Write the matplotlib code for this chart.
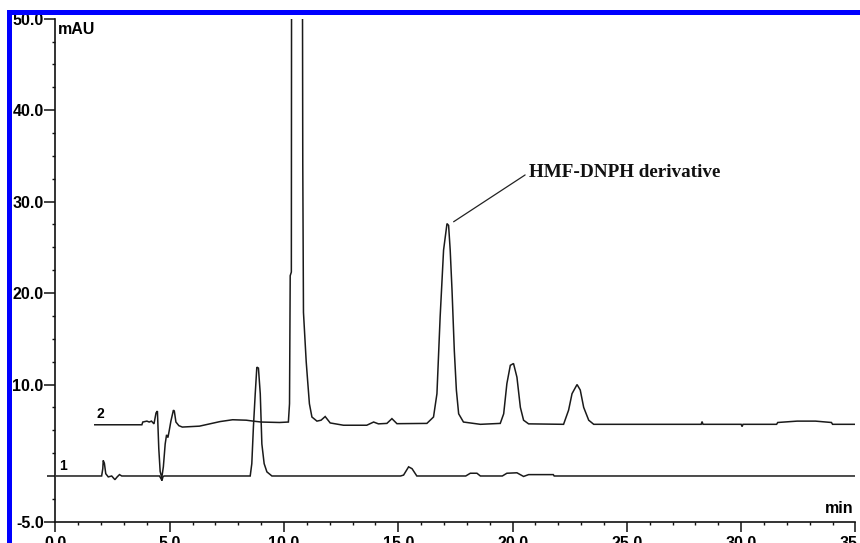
import matplotlib
matplotlib.use("Agg")
import matplotlib.pyplot as plt
from matplotlib.patches import Rectangle
from matplotlib.ticker import MultipleLocator, FixedLocator, FuncFormatter

# Chromatogram 1 (blank) - retention time (min) and absorbance (mAU)
time_1 = [0.05, 2.02, 2.07, 2.09, 2.14, 2.20, 2.31, 2.46, 2.60, 2.70, 2.80, 2.90,
          4.55, 4.62, 4.66, 4.70, 4.75,
          8.52, 8.59, 8.66, 8.74, 8.81, 8.88, 8.96, 9.03, 9.13, 9.25, 9.47,
          15.10, 15.23, 15.45, 15.60, 15.81,
          17.95, 18.15, 18.44, 18.59, 19.55, 19.75, 20.19, 20.48, 20.70, 21.78, 21.82, 35.0]
mau_1 = [0.0, 0.0, 0.8, 1.7, 1.4, 0.25, -0.1, 0.0, -0.4, -0.1, 0.15, 0.0,
         0.0, -0.3, -0.5, -0.1, 0.0,
         0.0, 1.35, 5.35, 9.0, 11.9, 11.8, 9.0, 3.5, 1.35, 0.45, 0.0,
         0.0, 0.1, 1.0, 0.8, 0.0,
         0.0, 0.3, 0.3, 0.0, 0.0, 0.3, 0.35, -0.05, 0.15, 0.15, 0.0, 0.0]

# Chromatogram 2 (sample) - retention time (min) and absorbance (mAU)
time_2 = [1.72, 3.78, 3.82, 4.00, 4.10, 4.20, 4.31, 4.40, 4.46, 4.52, 4.58, 4.65,
          4.72, 4.80, 4.86, 4.92, 4.98, 5.05, 5.16, 5.20, 5.27, 5.40, 5.55,
          6.30, 7.20, 7.75, 8.35, 8.65, 9.00, 9.80, 10.19, 10.24, 10.27, 10.32,
          10.34, 10.56, 10.78, 10.82, 10.85, 10.97, 11.03, 11.11, 11.22, 11.44,
          11.62, 11.80, 12.02, 12.60, 13.62, 13.92, 14.13, 14.50, 14.72, 14.94,
          16.25, 16.54, 16.69, 16.83, 16.98, 17.13, 17.20, 17.27, 17.35, 17.45,
          17.54, 17.64, 17.85, 18.59, 19.46, 19.61, 19.75, 19.90, 20.04, 20.19,
          20.34, 20.48, 20.70, 22.23, 22.45, 22.60, 22.82, 22.96, 23.11, 23.33,
          23.55, 28.25, 28.29, 28.33, 30.00, 30.04, 30.08, 31.55, 31.60, 32.45,
          33.25, 33.95, 34.00, 35.0]
mau_2 = [5.6, 5.6, 5.9, 6.0, 5.9, 6.0, 5.7, 6.9, 7.1, 3.0, 0.5, -0.2,
         1.0, 3.5, 4.5, 4.2, 5.0, 6.0, 7.2, 7.1, 5.9, 5.5, 5.35,
         5.45, 5.95, 6.15, 6.1, 6.0, 5.9, 5.85, 5.9, 7.9, 21.9, 22.3,
         90.0, 120.0, 90.0, 34.1, 17.9, 12.5, 10.5, 7.9, 6.45, 6.0,
         6.1, 6.5, 5.8, 5.55, 5.55, 5.9, 5.7, 5.75, 6.27, 5.72,
         5.75, 6.45, 9.0, 17.4, 24.7, 27.6, 27.4, 24.7, 20.3, 13.7,
         9.4, 6.8, 5.9, 5.65, 5.75, 6.8, 10.1, 12.1, 12.3, 10.8,
         7.5, 6.1, 5.7, 5.65, 7.2, 9.0, 10.0, 9.4, 7.5, 6.1,
         5.65, 5.65, 5.95, 5.65, 5.65, 5.4, 5.65, 5.65, 5.85, 6.0,
         6.0, 5.85, 5.65, 5.65]

trace_labels = ["1", "2"]
peak_label = "HMF-DNPH derivative"
peak_label_time = 17.42
peak_label_mau = 27.8

x_major = [0, 5, 10, 15, 20, 25, 30, 35]
y_major = [-5, 0, 10, 20, 30, 40, 50]

plt.rcParams["axes.unicode_minus"] = False
plt.rcParams["font.family"] = ["Liberation Sans", "DejaVu Sans"]

fig = plt.figure(figsize=(8.6, 5.43), dpi=100)
ax = fig.add_axes([0.0645, 0.0392, 0.9302, 0.9263])

line_kw = dict(color="#1a1a1a", lw=1.1, solid_joinstyle="miter")
ax.plot(time_1, mau_1, **line_kw)
ax.plot(time_2, mau_2, **line_kw)

ax.set_xlim(0, 35)
ax.set_ylim(-5, 50)

for side in ("top", "right"):
    ax.spines[side].set_visible(False)
for side in ("left", "bottom"):
    ax.spines[side].set_linewidth(1.2)
    ax.spines[side].set_color("#111111")

ax.xaxis.set_major_locator(FixedLocator(x_major))
ax.xaxis.set_minor_locator(MultipleLocator(1))
ax.xaxis.set_major_formatter(FuncFormatter(lambda v, p: f"{v:.1f}"))
ax.yaxis.set_major_locator(FixedLocator(y_major))
ax.yaxis.set_minor_locator(MultipleLocator(2.5))
ax.yaxis.set_major_formatter(FuncFormatter(lambda v, p: "" if v == 0 else f"{v:.1f}"))

ax.tick_params(axis="both", which="major", direction="out", width=1.1, color="#111111")
ax.tick_params(axis="both", which="minor", direction="out", width=1.0, length=2.3, color="#111111")
ax.tick_params(axis="y", which="major", length=8.0, pad=0.5)
ax.tick_params(axis="x", which="major", length=7.0, pad=3)
for lab in ax.get_xticklabels() + ax.get_yticklabels():
    lab.set_fontsize(11.5)
    lab.set_fontweight("bold")

# shorter tick at the zero line
for tk in ax.yaxis.get_major_ticks():
    if tk.get_loc() == 0:
        tk.tick1line.set_markersize(5.5)

# axis units
ax.text(0.1, 49.6, "mAU", ha="left", va="top", fontsize=11.5, fontweight="bold")
ax.text(34.9, -4.4, "min", ha="right", va="bottom", fontsize=11.5, fontweight="bold")

# trace numbers
ax.text(time_1[0] + 0.1, mau_1[0] + 0.35, trace_labels[0], ha="left", va="bottom",
        fontsize=10, fontweight="bold")
ax.text(time_2[0] + 0.08, mau_2[0] + 0.4, trace_labels[1], ha="left", va="bottom",
        fontsize=10, fontweight="bold")

# peak annotation
ax.annotate(peak_label, xy=(peak_label_time, peak_label_mau), xytext=(20.72, 33.2),
            ha="left", va="center", fontsize=13.8, fontweight="bold",
            family=["Liberation Serif", "DejaVu Serif"], color="#111111",
            arrowprops=dict(arrowstyle="-", color="#222222", lw=0.9,
                            shrinkA=1, shrinkB=0, relpos=(0, 0.5)))

# blue frame along the top and left edges
fig.add_artist(Rectangle((7 / 860, 0), 5.3 / 860, 1 - 10 / 543, transform=fig.transFigure,
                         facecolor="#0000ff", edgecolor="none", zorder=10))
fig.add_artist(Rectangle((7 / 860, 1 - 15 / 543), 1, 5 / 543, transform=fig.transFigure,
                         facecolor="#0000ff", edgecolor="none", zorder=10))

fig.savefig("out.png", dpi=100)
